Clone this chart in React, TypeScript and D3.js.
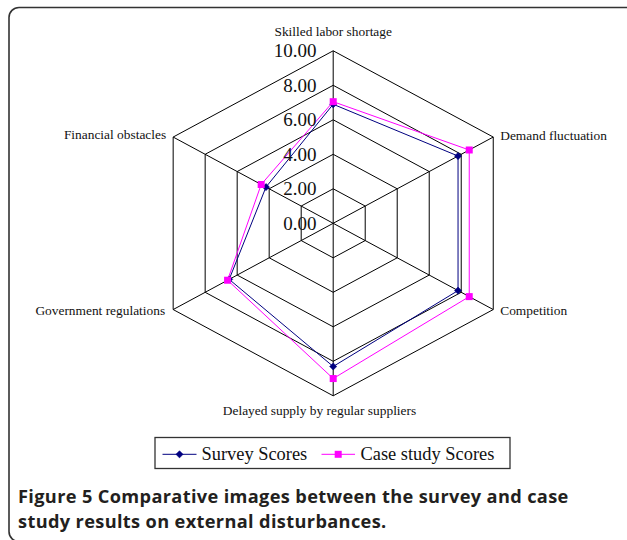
import React from "react";
import * as d3 from "d3";

const categories = [
  "Skilled labor shortage",
  "Demand fluctuation",
  "Competition",
  "Delayed supply by regular suppliers",
  "Government regulations",
  "Financial obstacles",
];
const surveyScores = [6.9, 7.8, 7.8, 8.3, 6.5, 4.2];
const caseScores = [7.05, 8.5, 8.5, 9.0, 6.6, 4.5];
const tickValues = [0, 2, 4, 6, 8, 10];
const seriesNames = ["Survey Scores", "Case study Scores"];
const captionLines = [
  "Figure 5 Comparative images between the survey and case",
  "study results on external disturbances.",
];

const W = 627;
const H = 540;
const cx = 333.2;
const cy = 223.3;
const ry = 172.5;
const rx = 184.8;

const rScale = d3.scaleLinear().domain([0, 10]).range([0, 1]);
const angle = d3
  .scaleLinear()
  .domain([0, categories.length])
  .range([0, 2 * Math.PI]);

function pt(i: number, v: number): [number, number] {
  const a = angle(i);
  const f = rScale(v);
  return [cx + Math.sin(a) * rx * f, cy - Math.cos(a) * ry * f];
}

const closedLine = d3
  .line<[number, number]>()
  .x((d) => d[0])
  .y((d) => d[1])
  .curve(d3.curveLinearClosed);

const labelPos: { dx: number; dy: number; anchor: string }[] = [
  { dx: 0, dy: -19, anchor: "middle" },
  { dx: 7, dy: -1.5, anchor: "start" },
  { dx: 7, dy: 0.5, anchor: "start" },
  { dx: -13.7, dy: 15, anchor: "middle" },
  { dx: -8, dy: 0.5, anchor: "end" },
  { dx: -7, dy: -3, anchor: "end" },
];

const NAVY = "#000080";
const MAGENTA = "#ff00ff";

function Diamond({ x, y, s }: { x: number; y: number; s: number }) {
  return (
    <path
      d={`M${x},${y - s}L${x + s},${y}L${x},${y + s}L${x - s},${y}Z`}
      fill={NAVY}
      stroke={NAVY}
      strokeWidth={0.5}
    />
  );
}
function Square({ x, y, s }: { x: number; y: number; s: number }) {
  return (
    <rect x={x - s / 2} y={y - s / 2} width={s} height={s} fill={MAGENTA} />
  );
}

export default function App() {
  const n = categories.length;
  const idx = d3.range(n);
  const surveyPts = surveyScores.map((v, i) => pt(i, v));
  const casePts = caseScores.map((v, i) => pt(i, v));
  const serif = "'Liberation Serif', 'DejaVu Serif', serif";
  const sans = "'Open Sans', 'Noto Sans', sans-serif";

  return (
    <svg
      width={W}
      height={H}
      style={{ position: "absolute", left: 0, top: 0, background: "#fff" }}
    >
      <rect
        x={9}
        y={7.5}
        width={640}
        height={534}
        rx={10}
        ry={10}
        fill="none"
        stroke="#333"
        strokeWidth={1.6}
      />
      {/* grid rings */}
      {tickValues
        .filter((t) => t > 0)
        .map((t) => (
          <path
            key={t}
            d={closedLine(idx.map((i) => pt(i, t))) || ""}
            fill="none"
            stroke="#000"
            strokeWidth={1}
          />
        ))}
      {/* spokes */}
      {idx.map((i) => {
        const [x, y] = pt(i, 10);
        return (
          <line key={i} x1={cx} y1={cy} x2={x} y2={y} stroke="#000" strokeWidth={1} />
        );
      })}
      {/* category labels */}
      {categories.map((c, i) => {
        const [x, y] = pt(i, 10);
        const p = labelPos[i];
        return (
          <text
            key={c}
            x={x + p.dx}
            y={y + p.dy}
            textAnchor={p.anchor}
            dominantBaseline="central"
            fontFamily={serif}
            fontSize={13.4}
            fill="#111"
          >
            {c}
          </text>
        );
      })}
      {/* series */}
      <path
        d={closedLine(surveyPts) || ""}
        fill="none"
        stroke={NAVY}
        strokeWidth={1}
      />
      {surveyPts.map(([x, y], i) => (
        <Diamond key={i} x={x} y={y} s={3.6} />
      ))}
      <path
        d={closedLine(casePts) || ""}
        fill="none"
        stroke={MAGENTA}
        strokeWidth={1}
      />
      {casePts.map(([x, y], i) => (
        <Square key={i} x={x} y={y} s={7} />
      ))}
      {/* tick labels */}
      {tickValues.map((t) => {
        const [, y] = pt(0, t);
        return (
          <text
            key={t}
            x={316.5}
            y={y}
            textAnchor="end"
            dominantBaseline="central"
            fontFamily={serif}
            fontSize={19}
            fill="#111"
          >
            {t.toFixed(2)}
          </text>
        );
      })}
      {/* legend */}
      <rect
        x={155}
        y={437.5}
        width={355}
        height={31}
        fill="#fff"
        stroke="#333"
        strokeWidth={1.3}
      />
      <line x1={162.5} x2={196.5} y1={454.3} y2={454.3} stroke={NAVY} strokeWidth={1} />
      <Diamond x={179.5} y={454.3} s={3.6} />
      <text
        x={201.5}
        y={454}
        dominantBaseline="central"
        fontFamily={serif}
        fontSize={18.4}
        fill="#111"
      >
        {seriesNames[0]}
      </text>
      <line x1={321.5} x2={355} y1={454.3} y2={454.3} stroke={MAGENTA} strokeWidth={1} />
      <Square x={338.2} y={454.3} s={7} />
      <text
        x={360.5}
        y={454}
        dominantBaseline="central"
        fontFamily={serif}
        fontSize={18.4}
        fill="#111"
      >
        {seriesNames[1]}
      </text>
      {/* caption */}
      {captionLines.map((line, i) => (
        <text
          key={i}
          x={18}
          y={503 + i * 25}
          fontFamily={sans}
          fontWeight="bold"
          fontSize={18.2}
          letterSpacing={0.35}
          fill="#231f20"
        >
          {line}
        </text>
      ))}
    </svg>
  );
}
